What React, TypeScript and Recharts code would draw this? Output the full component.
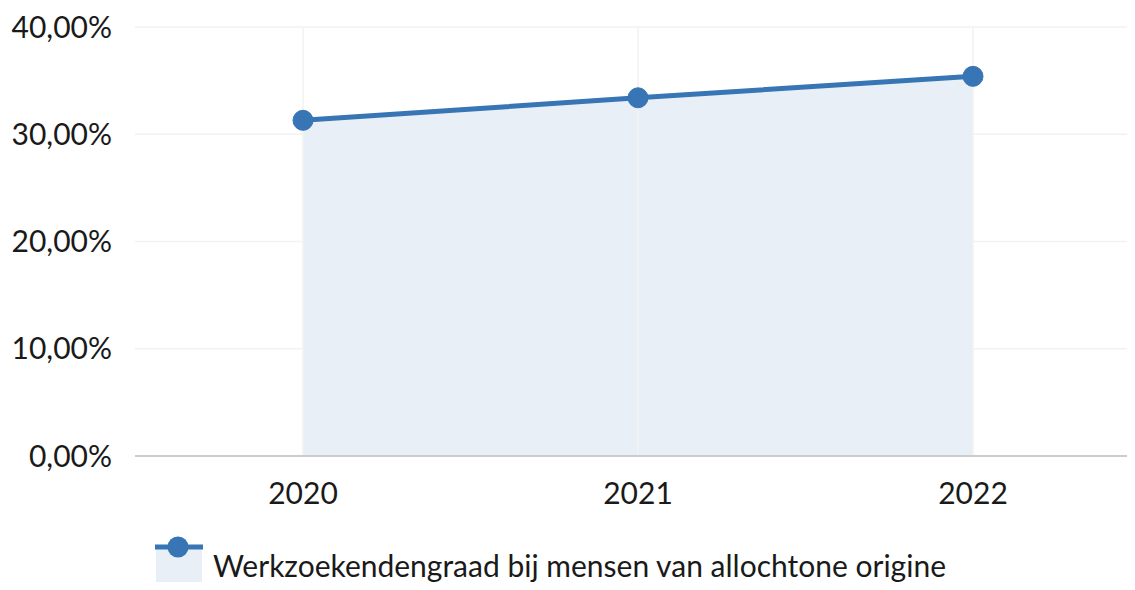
import * as React from "react";
import {
  AreaChart,
  Area,
  XAxis,
  YAxis,
  CartesianGrid,
  Legend,
  ReferenceLine,
} from "recharts";

const years = ["2020", "2021", "2022"];
const rates = [31.3, 33.4, 35.4];
const yTicks = [0, 10, 20, 30, 40];
const seriesName = "Werkzoekendengraad bij mensen van allochtone origine";

const LINE_COLOR = "#3775b4";
const FILL_COLOR = "#e8eff7";
const GRID_COLOR = "#f2f2f2";
const FONT = "Lato, 'Open Sans', sans-serif";

const data = years.map((year, i) => ({ year, rate: rates[i] }));

const formatPct = (v: number) => v.toFixed(2).replace(".", ",") + "%";

const LegendContent: React.FC = () => (
  <div style={{ display: "flex", alignItems: "flex-start", fontFamily: FONT }}>
    <svg width={48} height={56} style={{ display: "block" }}>
      <rect x={1} y={10} width={46} height={46} fill={FILL_COLOR} />
      <line x1={0} y1={12} x2={48} y2={12} stroke={LINE_COLOR} strokeWidth={5} />
      <circle cx={23} cy={12} r={10.5} fill={LINE_COLOR} />
    </svg>
    <span
      style={{
        fontSize: 30,
        color: "#1a1a1a",
        marginLeft: 10,
        marginTop: 12,
        lineHeight: "36px",
        whiteSpace: "nowrap",
      }}
    >
      {seriesName}
    </span>
  </div>
);

export default function App() {
  return (
    <div style={{ margin: -8, width: 1135, height: 590 }}>
      <AreaChart
        width={1135}
        height={590}
        data={data}
        margin={{ top: 27, right: 0, left: 0, bottom: 0 }}
      >
        <CartesianGrid stroke={GRID_COLOR} strokeWidth={1.5} vertical={false} />
        {years.map((y) => (
          <ReferenceLine key={y} x={y} stroke={GRID_COLOR} strokeWidth={1.5} />
        ))}
        <XAxis
          dataKey="year"
          height={60}
          padding={{ left: 168, right: 162 }}
          tickLine={false}
          tickMargin={21}
          axisLine={{ stroke: "#cccccc", strokeWidth: 2 }}
          tick={{ fontSize: 30, fill: "#1a1a1a", fontFamily: FONT }}
        />
        <YAxis
          width={135}
          domain={[0, 40]}
          ticks={yTicks}
          tickFormatter={formatPct}
          axisLine={false}
          tickLine={false}
          tickMargin={17}
          tick={{ fontSize: 30, fill: "#1a1a1a", fontFamily: FONT }}
        />
        <Legend
          verticalAlign="bottom"
          height={74}
          content={<LegendContent />}
          wrapperStyle={{ left: 155, top: 535, width: "auto" }}
        />
        <Area
          type="linear"
          dataKey="rate"
          name={seriesName}
          stroke={LINE_COLOR}
          strokeWidth={5}
          fill={FILL_COLOR}
          fillOpacity={1}
          dot={{ r: 10, fill: LINE_COLOR, stroke: LINE_COLOR, strokeWidth: 1 }}
          activeDot={false}
          isAnimationActive={false}
        />
      </AreaChart>
    </div>
  );
}
